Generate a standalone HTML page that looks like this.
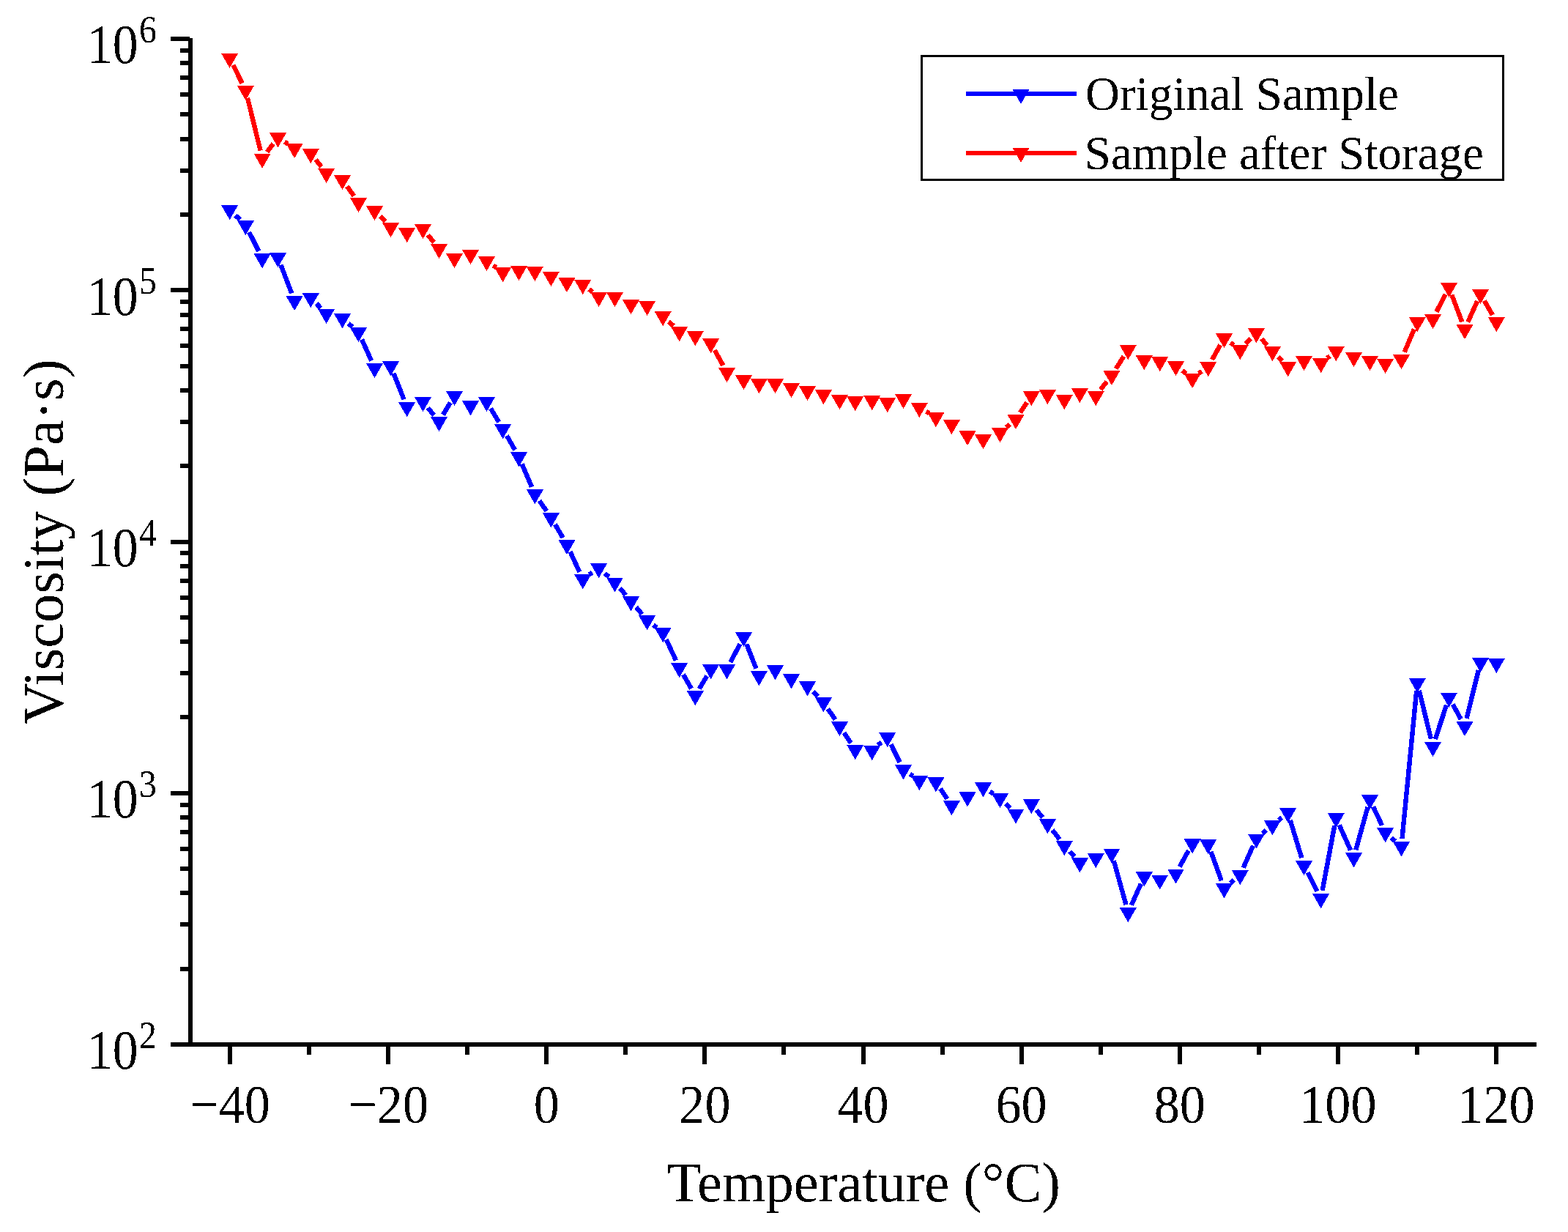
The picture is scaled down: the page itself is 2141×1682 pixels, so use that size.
<!DOCTYPE html>
<html><head><meta charset="utf-8"><title>Viscosity vs Temperature</title>
<style>html,body{margin:0;padding:0;background:#fff;overflow:hidden;}svg{display:block;}text{font-family:"Liberation Serif","Times New Roman",serif;fill:#000;}</style>
</head><body>
<svg width="2141" height="1682" viewBox="0 0 2141 1682">
<rect x="0" y="0" width="2141" height="1682" fill="#fff"/>
<defs><filter id="alias" x="0" y="0" width="100%" height="100%" filterUnits="userSpaceOnUse"><feComponentTransfer><feFuncA type="discrete" tableValues="0 1"/></feComponentTransfer></filter></defs>
<path d="M321.3 293.9L327.6 299.9M340.2 317.1L353.3 343.0M383.4 361.6L398.2 400.4M431.9 414.3L438.0 420.6M475.7 441.6L481.4 446.5M494.0 463.4L507.1 492.5M537.4 509.6L551.6 545.4M584.3 556.8L592.6 567.0M605.0 566.2L615.0 549.6M670.1 557.7L681.1 576.2M692.0 594.9L703.1 614.2M712.7 633.5L726.1 664.8M736.5 683.6L746.3 697.7M757.9 715.9L768.6 734.2M778.6 753.3L791.2 780.8M804.6 784.5L808.8 781.6M825.8 782.6L831.4 787.7M846.5 803.0L854.5 812.5M868.5 828.9L876.6 838.5M892.1 853.3L896.7 856.8M909.8 873.2L923.0 901.7M933.0 920.9L944.0 940.2M954.8 940.3L965.2 922.9M997.4 904.0L1010.5 879.1M1019.4 879.5L1032.4 912.6M1110.1 944.3L1116.8 951.0M1130.4 967.7L1140.5 982.5M1152.5 1000.5L1161.7 1014.5M1198.8 1017.4L1203.5 1013.4M1216.4 1016.1L1228.7 1040.9M1242.4 1056.7L1246.4 1059.5M1283.9 1076.6L1293.4 1090.7M1351.6 1080.6L1356.4 1083.6M1373.2 1097.1L1379.3 1103.2M1415.1 1105.9L1423.6 1116.2M1437.0 1133.2L1446.7 1145.9M1460.6 1162.5L1467.1 1169.7M1520.8 1175.2L1537.5 1235.2M1544.8 1235.7L1557.9 1206.6M1610.7 1183.3L1622.9 1161.2M1653.4 1162.8L1667.8 1202.4M1679.8 1205.7L1685.0 1201.4M1697.7 1184.6L1711.0 1154.7M1723.7 1137.9L1729.1 1133.5M1745.8 1119.8L1750.2 1116.3M1761.7 1119.8L1777.3 1171.2M1785.4 1191.1L1798.6 1216.9M1805.6 1215.9L1822.3 1127.1M1828.7 1126.4L1844.1 1160.8M1851.3 1160.3L1867.6 1101.9M1875.0 1101.3L1887.0 1126.8M1899.7 1143.7L1905.3 1148.6M1914.5 1145.0L1934.2 943.1M1937.8 942.9L1953.9 1008.8M1959.8 1009.0L1975.1 962.5M1983.7 961.7L1994.8 981.9M2002.5 980.9L2018.9 914.9" fill="none" stroke="#0000ff" stroke-width="6.4" stroke-linecap="butt" shape-rendering="crispEdges"/>
<path d="M302.1 280.1H325.1L313.6 300.1ZM323.9 301.1H346.9L335.4 321.1ZM346.6 346.4H369.6L358.1 366.4ZM368.0 345.2H391.0L379.5 365.2ZM390.6 404.2H413.6L402.1 424.2ZM412.8 400.3H435.8L424.3 420.3ZM434.1 422.0H457.1L445.6 442.0ZM456.0 428.3H479.0L467.5 448.3ZM478.0 447.2H501.0L489.5 467.2ZM500.0 496.1H523.0L511.5 516.1ZM522.0 493.3H545.0L533.5 513.3ZM544.1 549.1H567.1L555.6 569.1ZM566.0 542.1H589.0L577.5 562.1ZM588.0 569.1H611.0L599.5 589.1ZM609.0 534.1H632.0L620.5 554.1ZM631.0 547.3H654.0L642.5 567.3ZM653.0 542.1H676.0L664.5 562.1ZM675.1 579.2H698.1L686.6 599.2ZM697.0 617.3H720.0L708.5 637.3ZM718.9 668.4H741.9L730.4 688.4ZM740.9 700.3H763.9L752.4 720.3ZM762.5 737.2H785.5L774.0 757.2ZM784.2 784.3H807.2L795.8 804.3ZM806.1 769.2H829.1L817.6 789.2ZM828.0 788.5H851.0L839.5 808.5ZM850.0 814.4H873.0L861.5 834.4ZM872.1 840.4H895.1L883.6 860.4ZM893.7 857.1H916.7L905.2 877.1ZM916.1 905.2H939.1L927.6 925.2ZM937.8 943.3H960.8L949.3 963.3ZM959.1 907.3H982.1L970.6 927.3ZM981.0 907.3H1004.0L992.5 927.3ZM1004.0 863.2H1027.0L1015.5 883.2ZM1024.9 916.3H1047.9L1036.4 936.3ZM1047.0 908.3H1070.0L1058.5 928.3ZM1069.0 920.3H1092.0L1080.5 940.3ZM1091.0 930.3H1114.0L1102.5 950.3ZM1112.9 952.4H1135.9L1124.4 972.4ZM1135.0 985.2H1158.0L1146.5 1005.2ZM1156.2 1017.2H1179.2L1167.7 1037.2ZM1179.2 1018.1H1202.2L1190.7 1038.1ZM1200.2 1000.1H1223.2L1211.7 1020.1ZM1222.0 1044.3H1245.0L1233.5 1064.3ZM1243.8 1059.3H1266.8L1255.3 1079.3ZM1266.4 1061.4H1289.4L1277.9 1081.4ZM1287.9 1093.3H1310.9L1299.4 1113.3ZM1309.5 1081.4H1332.5L1321.0 1101.4ZM1331.0 1068.4H1354.0L1342.5 1088.4ZM1354.0 1083.2H1377.0L1365.5 1103.2ZM1375.5 1104.5H1398.5L1387.0 1124.5ZM1396.8 1091.2H1419.8L1408.3 1111.2ZM1418.9 1118.3H1441.9L1430.4 1138.3ZM1441.8 1148.2H1464.8L1453.3 1168.2ZM1462.9 1171.4H1485.9L1474.4 1191.4ZM1484.8 1165.2H1507.8L1496.2 1185.2ZM1506.4 1158.5H1529.4L1517.9 1178.5ZM1528.8 1239.3H1551.8L1540.3 1259.3ZM1550.8 1190.4H1573.8L1562.3 1210.4ZM1572.2 1194.5H1595.2L1583.7 1214.5ZM1594.0 1186.5H1617.0L1605.5 1206.5ZM1616.6 1145.4H1639.6L1628.1 1165.4ZM1638.2 1146.3H1661.2L1649.7 1166.3ZM1660.0 1206.3H1683.0L1671.5 1226.3ZM1681.8 1188.2H1704.8L1693.3 1208.2ZM1703.9 1138.5H1726.9L1715.4 1158.5ZM1725.9 1120.3H1748.9L1737.4 1140.3ZM1747.1 1103.2H1770.1L1758.6 1123.2ZM1769.0 1175.2H1792.0L1780.5 1195.2ZM1792.1 1220.2H1815.1L1803.6 1240.2ZM1812.8 1110.2H1835.8L1824.3 1130.2ZM1837.0 1164.4H1860.0L1848.5 1184.4ZM1859.0 1085.2H1882.0L1870.5 1105.2ZM1880.1 1130.3H1903.1L1891.6 1150.3ZM1902.0 1149.4H1925.0L1913.5 1169.4ZM1923.8 926.1H1946.8L1935.2 946.1ZM1945.0 1013.0H1968.0L1956.5 1033.0ZM1967.0 945.9H1990.0L1978.5 965.9ZM1988.5 985.1H2011.5L2000.0 1005.1ZM2010.0 898.1H2033.0L2021.5 918.1ZM2031.8 899.0H2054.8L2043.3 919.0Z" fill="#0000ff" shape-rendering="crispEdges"/>
<path d="M318.4 89.0L330.6 113.6M338.0 133.8L355.6 205.6M364.6 207.5L373.0 196.2M388.6 193.5L393.0 196.4M431.0 218.0L438.9 227.8M473.8 254.3L483.3 267.5M519.0 295.3L526.0 302.5M584.3 320.8L592.6 330.9M673.4 362.4L677.7 365.4M804.3 394.9L809.1 398.7M913.1 438.9L919.7 445.1M975.8 478.0L987.3 498.9M1264.6 561.7L1268.6 564.1M1373.8 583.5L1378.7 579.3M1393.0 563.4L1402.3 549.5M1502.8 531.9L1511.3 521.0M1523.7 503.3L1534.5 486.5M1614.2 506.0L1619.5 509.9M1636.8 510.0L1641.0 506.9M1655.0 491.1L1666.2 470.9M1680.2 467.9L1684.6 471.0M1700.8 469.6L1707.9 462.3M1722.5 462.6L1730.3 471.4M1745.1 487.1L1750.9 492.9M1812.1 488.8L1815.8 486.1M1917.7 480.6L1931.0 449.4M1961.4 425.7L1973.6 402.0M1982.3 402.5L1996.2 439.4M2004.3 439.6L2017.1 411.2M2026.8 410.7L2037.9 430.1" fill="none" stroke="#ff0000" stroke-width="6.4" stroke-linecap="butt" shape-rendering="crispEdges"/>
<path d="M302.1 73.0H325.1L313.6 93.0ZM323.9 117.0H346.9L335.4 137.0ZM346.6 209.8H369.6L358.1 229.8ZM368.0 181.3H391.0L379.5 201.3ZM390.6 196.0H413.6L402.1 216.0ZM412.8 203.2H435.8L424.3 223.2ZM434.1 230.0H457.1L445.6 250.0ZM456.0 239.2H479.0L467.5 259.2ZM478.0 270.0H501.0L489.5 290.0ZM500.0 281.2H523.0L511.5 301.2ZM522.0 304.0H545.0L533.5 324.0ZM544.1 311.1H567.1L555.6 331.1ZM566.0 306.1H589.0L577.5 326.1ZM588.0 333.0H611.0L599.5 353.0ZM609.0 346.0H632.0L620.5 366.0ZM631.0 341.1H654.0L642.5 361.1ZM653.0 350.0H676.0L664.5 370.0ZM675.1 365.2H698.1L686.6 385.2ZM697.0 363.1H720.0L708.5 383.1ZM718.9 364.0H741.9L730.4 384.0ZM740.9 371.0H763.9L752.4 391.0ZM762.5 379.1H785.5L774.0 399.1ZM784.2 382.0H807.2L795.8 402.0ZM806.1 399.0H829.1L817.6 419.0ZM828.0 399.0H851.0L839.5 419.0ZM850.0 409.2H873.0L861.5 429.2ZM872.1 411.0H895.1L883.6 431.0ZM893.7 425.2H916.7L905.2 445.2ZM916.1 446.2H939.1L927.6 466.2ZM937.8 452.1H960.8L949.3 472.1ZM959.1 462.2H982.1L970.6 482.2ZM981.0 502.1H1004.0L992.5 522.1ZM1004.0 512.2H1027.0L1015.5 532.2ZM1024.9 517.2H1047.9L1036.4 537.2ZM1047.0 517.2H1070.0L1058.5 537.2ZM1069.0 523.1H1092.0L1080.5 543.1ZM1091.0 527.0H1114.0L1102.5 547.0ZM1112.9 532.2H1135.9L1124.4 552.2ZM1135.0 539.2H1158.0L1146.5 559.2ZM1156.2 541.1H1179.2L1167.7 561.1ZM1179.2 540.2H1202.2L1190.7 560.2ZM1200.2 543.2H1223.2L1211.7 563.2ZM1222.0 538.1H1245.0L1233.5 558.1ZM1243.8 550.0H1266.8L1255.3 570.0ZM1266.4 563.2H1289.4L1277.9 583.2ZM1287.9 573.1H1310.9L1299.4 593.1ZM1309.5 588.3H1332.5L1321.0 608.3ZM1331.0 593.2H1354.0L1342.5 613.2ZM1354.0 584.1H1377.0L1365.5 604.1ZM1375.5 566.1H1398.5L1387.0 586.1ZM1396.8 534.2H1419.8L1408.3 554.2ZM1418.9 532.1H1441.9L1430.4 552.1ZM1441.8 539.1H1464.8L1453.3 559.1ZM1462.9 530.1H1485.9L1474.4 550.1ZM1484.8 534.2H1507.8L1496.2 554.2ZM1506.4 506.1H1529.4L1517.9 526.1ZM1528.8 471.1H1551.8L1540.3 491.1ZM1550.8 485.3H1573.8L1562.3 505.3ZM1572.2 487.2H1595.2L1583.7 507.2ZM1594.0 493.2H1617.0L1605.5 513.2ZM1616.6 510.1H1639.6L1628.1 530.1ZM1638.2 494.2H1661.2L1649.7 514.2ZM1660.0 455.2H1683.0L1671.5 475.2ZM1681.8 471.1H1704.8L1693.3 491.1ZM1703.9 448.2H1726.9L1715.4 468.2ZM1725.9 473.2H1748.9L1737.4 493.2ZM1747.1 494.2H1770.1L1758.6 514.2ZM1769.0 486.0H1792.0L1780.5 506.0ZM1792.1 489.1H1815.1L1803.6 509.1ZM1812.8 473.2H1835.8L1824.3 493.2ZM1837.0 481.1H1860.0L1848.5 501.1ZM1859.0 486.0H1882.0L1870.5 506.0ZM1880.1 490.0H1903.1L1891.6 510.0ZM1902.0 484.2H1925.0L1913.5 504.2ZM1923.8 433.2H1946.8L1935.2 453.2ZM1945.0 429.0H1968.0L1956.5 449.0ZM1967.0 386.1H1990.0L1978.5 406.1ZM1988.5 443.2H2011.5L2000.0 463.2ZM2010.0 395.0H2033.0L2021.5 415.0ZM2031.8 433.2H2054.8L2043.3 453.2Z" fill="#ff0000" shape-rendering="crispEdges"/>
<g fill="#000" shape-rendering="crispEdges">
<rect x="257" y="52" width="6" height="1377"/>
<rect x="233" y="1423" width="1865" height="6"/>
<rect x="233" y="1423.0" width="26" height="6"/>
<rect x="233" y="1079.8" width="26" height="6"/>
<rect x="233" y="736.5" width="26" height="6"/>
<rect x="233" y="393.2" width="26" height="6"/>
<rect x="233" y="50.0" width="26" height="6"/>
<rect x="246" y="1319.7" width="13" height="6"/>
<rect x="246" y="1259.2" width="13" height="6"/>
<rect x="246" y="1216.3" width="13" height="6"/>
<rect x="246" y="1183.1" width="13" height="6"/>
<rect x="246" y="1155.9" width="13" height="6"/>
<rect x="246" y="1132.9" width="13" height="6"/>
<rect x="246" y="1113.0" width="13" height="6"/>
<rect x="246" y="1095.5" width="13" height="6"/>
<rect x="246" y="976.4" width="13" height="6"/>
<rect x="246" y="916.0" width="13" height="6"/>
<rect x="246" y="873.1" width="13" height="6"/>
<rect x="246" y="839.8" width="13" height="6"/>
<rect x="246" y="812.6" width="13" height="6"/>
<rect x="246" y="789.7" width="13" height="6"/>
<rect x="246" y="769.8" width="13" height="6"/>
<rect x="246" y="752.2" width="13" height="6"/>
<rect x="246" y="633.2" width="13" height="6"/>
<rect x="246" y="572.7" width="13" height="6"/>
<rect x="246" y="529.8" width="13" height="6"/>
<rect x="246" y="496.6" width="13" height="6"/>
<rect x="246" y="469.4" width="13" height="6"/>
<rect x="246" y="446.4" width="13" height="6"/>
<rect x="246" y="426.5" width="13" height="6"/>
<rect x="246" y="409.0" width="13" height="6"/>
<rect x="246" y="289.9" width="13" height="6"/>
<rect x="246" y="229.5" width="13" height="6"/>
<rect x="246" y="186.6" width="13" height="6"/>
<rect x="246" y="153.3" width="13" height="6"/>
<rect x="246" y="126.1" width="13" height="6"/>
<rect x="246" y="103.2" width="13" height="6"/>
<rect x="246" y="83.3" width="13" height="6"/>
<rect x="246" y="65.7" width="13" height="6"/>
<rect x="311.0" y="1429" width="6" height="24"/>
<rect x="527.1" y="1429" width="6" height="24"/>
<rect x="743.2" y="1429" width="6" height="24"/>
<rect x="959.4" y="1429" width="6" height="24"/>
<rect x="1175.5" y="1429" width="6" height="24"/>
<rect x="1391.6" y="1429" width="6" height="24"/>
<rect x="1607.8" y="1429" width="6" height="24"/>
<rect x="1823.9" y="1429" width="6" height="24"/>
<rect x="2040.0" y="1429" width="6" height="24"/>
<rect x="419.1" y="1429" width="6" height="11"/>
<rect x="635.2" y="1429" width="6" height="11"/>
<rect x="851.3" y="1429" width="6" height="11"/>
<rect x="1067.4" y="1429" width="6" height="11"/>
<rect x="1283.6" y="1429" width="6" height="11"/>
<rect x="1499.7" y="1429" width="6" height="11"/>
<rect x="1715.8" y="1429" width="6" height="11"/>
<rect x="1931.9" y="1429" width="6" height="11"/>
</g>
<g filter="url(#alias)">
<text transform="translate(314.0 1533) scale(0.975 1.04)" font-size="72" text-anchor="middle">−40</text>
<text transform="translate(530.1 1533) scale(0.975 1.04)" font-size="72" text-anchor="middle">−20</text>
<text transform="translate(746.2 1533) scale(0.975 1.04)" font-size="72" text-anchor="middle">0</text>
<text transform="translate(962.4 1533) scale(0.975 1.04)" font-size="72" text-anchor="middle">20</text>
<text transform="translate(1178.5 1533) scale(0.975 1.04)" font-size="72" text-anchor="middle">40</text>
<text transform="translate(1394.6 1533) scale(0.975 1.04)" font-size="72" text-anchor="middle">60</text>
<text transform="translate(1610.8 1533) scale(0.975 1.04)" font-size="72" text-anchor="middle">80</text>
<text transform="translate(1826.9 1533) scale(0.975 1.04)" font-size="72" text-anchor="middle">100</text>
<text transform="translate(2043.0 1533) scale(0.975 1.04)" font-size="72" text-anchor="middle">120</text>
<text transform="translate(118.9 1459.4) scale(0.968 1.06)" font-size="72">10</text>
<text transform="translate(190 1431.0) scale(0.92 1)" font-size="52">2</text>
<text transform="translate(118.9 1116.2) scale(0.968 1.06)" font-size="72">10</text>
<text transform="translate(190 1087.8) scale(0.92 1)" font-size="52">3</text>
<text transform="translate(118.9 772.9) scale(0.968 1.06)" font-size="72">10</text>
<text transform="translate(190 744.5) scale(0.92 1)" font-size="52">4</text>
<text transform="translate(118.9 429.6) scale(0.968 1.06)" font-size="72">10</text>
<text transform="translate(190 401.2) scale(0.92 1)" font-size="52">5</text>
<text transform="translate(118.9 86.4) scale(0.968 1.06)" font-size="72">10</text>
<text transform="translate(190 58.0) scale(0.92 1)" font-size="52">6</text>
<text transform="translate(1179.3 1640) scale(0.994 1)" font-size="77" text-anchor="middle">Temperature (°C)</text>
<text transform="translate(85.5 739.8) rotate(-90) scale(1.006 1)" font-size="78" text-anchor="middle">Viscosity (Pa·s)</text>
</g>
<rect x="1258.5" y="76.5" width="794" height="169" fill="none" stroke="#000" stroke-width="3"/>
<rect x="1319" y="125" width="151" height="6" fill="#0000ff"/>
<path d="M1382.5 122H1405.5L1394 142Z" fill="#0000ff" shape-rendering="crispEdges"/>
<text x="1482" y="150" font-size="65" filter="url(#alias)">Original Sample</text>
<rect x="1319" y="206" width="151" height="6" fill="#ff0000"/>
<path d="M1382.5 202H1405.5L1394 222Z" fill="#ff0000" shape-rendering="crispEdges"/>
<text x="1480.8" y="231" font-size="65" filter="url(#alias)">Sample after Storage</text>
</svg></body></html>
